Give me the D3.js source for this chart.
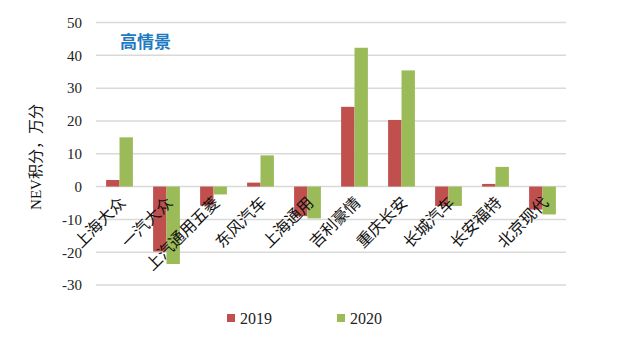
<!DOCTYPE html>
<html><head><meta charset="utf-8">
<script src="https://cdn.jsdelivr.net/npm/d3@7"></script>
<style>body{margin:0;background:#fff}svg{display:block}</style>
</head><body>
<script>
const categories = ["上海大众","一汽大众","上汽通用五菱","东风汽车","上海通用","吉利豪情","重庆长安","长城汽车","长安福特","北京现代"];
const series2019 = [2, -19.8, -5.8, 1.2, -9, 24.3, 20.3, -5.9, 0.8, -7];
const series2020 = [15, -23.6, -2.4, 9.5, -9.7, 42.3, 35.4, -5.9, 6, -8.5];
const yTicks = [50, 40, 30, 20, 10, 0, -10, -20, -30];
const seriesNames = ["2019", "2020"];
const colors = ["#C0504D", "#9BBB59"];

const W = 640, H = 355;
const svg = d3.select("body").append("svg").attr("width", W).attr("height", H);
const y = d3.scaleLinear().domain([-30, 50]).range([285, 22.5]);
const x = d3.scaleBand().domain(categories).range([96, 566]).paddingInner(0.43).paddingOuter(0.215);
const x1 = d3.scaleBand().domain(seriesNames).range([0, x.bandwidth()]);

// gridlines
svg.append("g").selectAll("line").data(yTicks).join("line")
  .attr("x1", 96).attr("x2", 566)
  .attr("y1", d => y(d)).attr("y2", d => y(d))
  .attr("stroke", "#d9d9d9").attr("stroke-width", 1.5);

// y axis labels
const yAxis = d3.axisLeft(y).tickValues(yTicks).tickSize(0).tickPadding(0).tickFormat(d => String(d));
const ga = svg.append("g").attr("transform", "translate(82,0)").call(yAxis);
ga.select(".domain").remove();
ga.selectAll("text").attr("font-family", "'Liberation Serif', serif").attr("font-size", 15).attr("fill", "#222");

// bars
const data = [series2019, series2020];
data.forEach((vals, si) => {
  svg.append("g").selectAll("rect").data(vals).join("rect")
    .attr("x", (d, i) => x(categories[i]) + x1(seriesNames[si]))
    .attr("width", x1.bandwidth())
    .attr("y", d => y(Math.max(0, d)))
    .attr("height", d => Math.abs(y(d) - y(0)))
    .attr("fill", colors[si]);
});

// category labels
svg.append("g").selectAll("text").data(categories).join("text")
  .attr("transform", d => `translate(${x(d) + x.bandwidth() / 2 + 7},${y(0) + 17}) rotate(-45)`)
  .attr("text-anchor", "end")
  .attr("font-family", "'Noto Sans CJK SC', sans-serif")
  .attr("font-size", 16)
  .attr("fill", "#111")
  .text(d => d);

// y axis title
svg.append("text")
  .attr("transform", "translate(41,157) rotate(-90)")
  .attr("text-anchor", "middle")
  .attr("font-family", "'Liberation Serif', 'Noto Sans CJK SC', serif")
  .attr("font-size", 15)
  .attr("fill", "#111")
  .text("NEV积分，万分");

// title
svg.append("text")
  .attr("x", 120).attr("y", 48)
  .attr("font-family", "'Noto Sans CJK SC', sans-serif")
  .attr("font-size", 17).attr("font-weight", "bold")
  .attr("fill", "#1F7BC1")
  .text("高情景");

// legend
const legX = [227, 337];
seriesNames.forEach((s, i) => {
  svg.append("rect").attr("x", legX[i]).attr("y", 314).attr("width", 8).attr("height", 8).attr("fill", colors[i]);
  svg.append("text").attr("x", legX[i] + 13).attr("y", 324)
    .attr("font-family", "'Liberation Serif', serif").attr("font-size", 16).attr("fill", "#222")
    .text(s);
});
</script>
</body></html>
